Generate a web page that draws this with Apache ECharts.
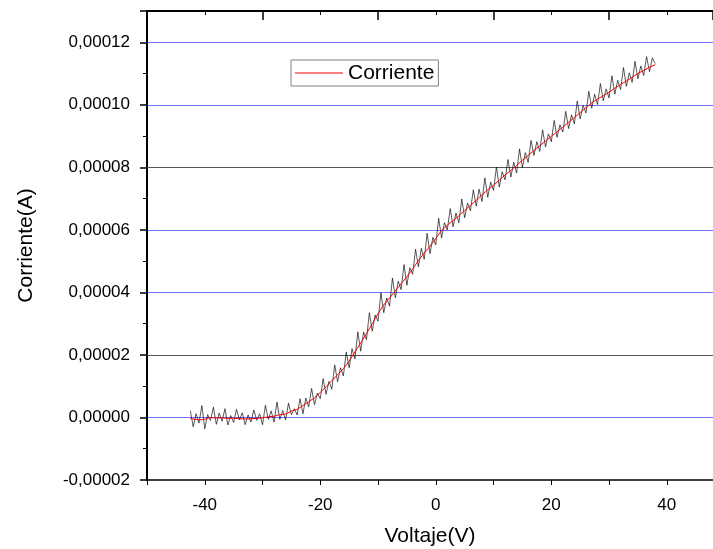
<!DOCTYPE html>
<html>
<head>
<meta charset="utf-8">
<script src="https://cdn.jsdelivr.net/npm/echarts@6/dist/echarts.min.js"></script>
<style>
  html, body { margin: 0; padding: 0; background: #fff; }
  #chart { width: 713px; height: 549px; }
</style>
</head>
<body>
<div id="chart"></div>
<script>
// smoothed curve (red), voltage in V, current in microamps
var voltage = [-42.5, -42, -41, -40, -39, -38, -37, -36, -35, -34, -33, -32, -31, -30, -29, -28, -27, -26, -25, -24,
  -23, -22, -21, -20, -19, -18, -17, -16, -15, -14, -13, -12, -11, -10, -9, -8, -7, -6, -5, -4,
  -3, -2, -1, 0, 1, 2, 3, 4, 5, 6, 7, 8, 9, 10, 11, 12, 13, 14, 15, 16,
  17, 18, 19, 20, 21, 22, 23, 24, 25, 26, 27, 28, 29, 30, 31, 32, 33, 34, 35, 36, 37, 38];
var current = [-0.3, -0.5, -0.8, -0.6, 0.0, -0.2, -0.1, -0.3, -0.2, -0.4, -0.5, -0.4, -0.3, -0.1, 0.2, 0.4, 0.9, 1.1, 2.0, 2.6,
  3.8, 5.0, 6.3, 8.0, 9.8, 11.8, 13.6, 15.6, 18.0, 21.0, 23.8, 26.8, 30.0, 33.2, 36.0, 38.2, 40.5, 42.8, 45.0, 47.5,
  50.2, 52.6, 54.8, 57.2, 59.8, 61.5, 63.0, 64.5, 66.2, 67.8, 69.5, 71.2, 72.8, 74.3, 75.9, 77.6, 79.0, 80.6, 82.3, 83.8,
  85.4, 86.9, 88.4, 89.9, 91.4, 92.9, 94.4, 95.9, 97.5, 99.1, 100.6, 101.8, 102.9, 104.0, 105.3, 106.5, 107.6, 108.8, 110.0, 111.0, 112.0, 112.8];

// raw readings (black), one every 0.5 V starting at -42.5 V
var rawStart = -42.5;
var rawStep = 0.5;
var rawCurrent = [
  2.1, -3.0, 1.2, -1.8, 3.8, -3.6, 0.9, -1.0, 3.3, -2.2,
  1.4, -1.2, 2.8, -2.4, 0.6, -1.6, 2.6, -0.8, 1.5, -2.3,
  0.8, -1.4, 2.4, -0.9, 1.2, -2.3, 3.9, -0.6, 2.1, -1.5,
  4.9, -0.6, 2.2, -0.8, 4.6, 0.9, 2.8, 0.8, 6.0, 1.2,
  6.2, 3.4, 9.3, 4.1, 7.8, 6.0, 12.4, 7.4, 11.5, 9.0,
  16.8, 11.4, 15.9, 13.3, 20.9, 15.9, 22.0, 18.7, 27.4, 21.2,
  27.3, 24.9, 33.5, 27.6, 32.8, 30.8, 39.9, 33.5, 38.2, 35.6,
  44.6, 38.3, 43.6, 40.9, 48.9, 42.3, 47.9, 45.8, 53.8, 48.2,
  54.1, 50.6, 58.9, 52.4, 57.6, 55.2, 63.7, 57.4, 62.3, 60.0,
  66.8, 61.0, 65.4, 62.3, 69.9, 63.9, 68.6, 66.1, 72.8, 67.6,
  73.0, 69.1, 76.6, 70.4, 75.3, 72.6, 80.1, 73.7, 78.6, 76.0,
  82.5, 76.9, 81.6, 78.2, 85.9, 79.9, 84.7, 81.6, 88.6, 83.8,
  88.2, 85.1, 92.0, 86.5, 90.7, 88.2, 95.0, 89.6, 93.6, 91.3,
  97.9, 92.4, 96.8, 93.9, 101.2, 95.5, 99.8, 97.4, 104.3, 98.9,
  103.4, 100.1, 106.8, 101.3, 105.1, 102.2, 109.3, 103.4, 107.8, 104.9,
  111.9, 105.9, 110.2, 107.2, 113.9, 108.3, 112.4, 109.4, 115.4, 110.6,
  115.0, 113.2
];

var xLabels = [-40, -20, 0, 20, 40];
// gridlines that look dark grey instead of blue in the original
var grayGrid = [20, 80];

var fontFam = '"Liberation Sans", Arial, sans-serif';
var gridBlue = '#7070ff';
var gridGray = '#55555f';

var redData = voltage.map(function (v, i) { return [v, current[i]]; });
var rawData = rawCurrent.map(function (c, i) { return [rawStart + i * rawStep, c]; });

var myChart = echarts.init(document.getElementById('chart'));
var option = {
  animation: false,
  backgroundColor: '#fff',
  textStyle: { fontFamily: fontFam },
  grid: { left: 147, top: 11, right: 0, bottom: 69, outerBoundsMode: 'none' },
  legend: {
    data: ['Corriente'],
    left: 291,
    top: 60,
    orient: 'horizontal',
    icon: 'rect',
    borderColor: '#808080',
    borderWidth: 1,
    borderRadius: 0,
    padding: [2, 4, 2, 4],
    itemWidth: 48,
    itemHeight: 1,
    itemGap: 6,
    textStyle: { fontSize: 21, color: '#000', fontFamily: fontFam, lineHeight: 22 }
  },
  xAxis: [
    {
      type: 'value',
      position: 'bottom',
      min: -50,
      max: 48,
      interval: 10,
      name: 'Voltaje(V)',
      nameLocation: 'middle',
      nameGap: 46,
      nameTextStyle: { fontSize: 21, color: '#000', fontFamily: fontFam },
      axisLine: { show: true, onZero: false, lineStyle: { color: '#000', width: 1.5 } },
      axisTick: { show: true, inside: false, length: 5, lineStyle: { color: '#000', width: 1 } },
      axisLabel: {
        margin: 17,
        fontSize: 17,
        color: '#000',
        fontFamily: fontFam,
        formatter: function (v) { return xLabels.indexOf(v) >= 0 ? String(v) : ''; }
      },
      splitLine: { show: false }
    },
    {
      type: 'value',
      position: 'top',
      min: -50,
      max: 48,
      interval: 20,
      axisLine: { show: true, onZero: false, lineStyle: { color: '#000', width: 2 } },
      axisTick: { show: true, inside: true, length: 9, lineStyle: { color: '#000', width: 1.5 } },
      minorTick: { show: true, splitNumber: 2, length: 4, lineStyle: { color: '#000', width: 1 } },
      axisLabel: { show: false },
      splitLine: { show: false }
    }
  ],
  yAxis: {
    type: 'value',
    min: -20,
    max: 130,
    interval: 20,
    name: 'Corriente(A)',
    nameLocation: 'middle',
    nameGap: 110,
    nameRotate: 90,
    nameTextStyle: { fontSize: 21, color: '#000', fontFamily: fontFam },
    axisLine: { show: true, onZero: false, lineStyle: { color: '#000', width: 2 } },
    axisTick: { show: true, inside: false, length: 7, lineStyle: { color: '#000', width: 1.5 } },
    minorTick: { show: true, splitNumber: 2, length: 4, lineStyle: { color: '#000', width: 1 } },
    axisLabel: {
      margin: 17,
      fontSize: 17,
      color: '#000',
      fontFamily: fontFam,
      formatter: function (v) {
        if (v > 120) return '';
        return (v * 1e-6).toFixed(5).replace('.', ',');
      }
    },
    splitLine: {
      show: true,
      showMinLine: false,
      showMaxLine: false,
      lineStyle: { color: gridBlue, width: 1 }
    }
  },
  series: [
    {
      name: 'raw',
      type: 'line',
      data: rawData,
      symbol: 'none',
      lineStyle: { color: '#000', width: 1, opacity: 0.65 },
      itemStyle: { color: '#000' },
      z: 2,
      markLine: {
        silent: true,
        symbol: ['none', 'none'],
        label: { show: false },
        lineStyle: { color: gridGray, width: 1, type: 'solid', opacity: 1 },
        data: grayGrid.map(function (v) { return { yAxis: v }; }),
        z: 1
      }
    },
    {
      name: 'Corriente',
      type: 'line',
      data: redData,
      symbol: 'none',
      lineStyle: { color: '#ff0000', width: 1 },
      itemStyle: { color: '#ff0000' },
      z: 3
    }
  ]
};
myChart.setOption(option);
</script>
</body>
</html>
